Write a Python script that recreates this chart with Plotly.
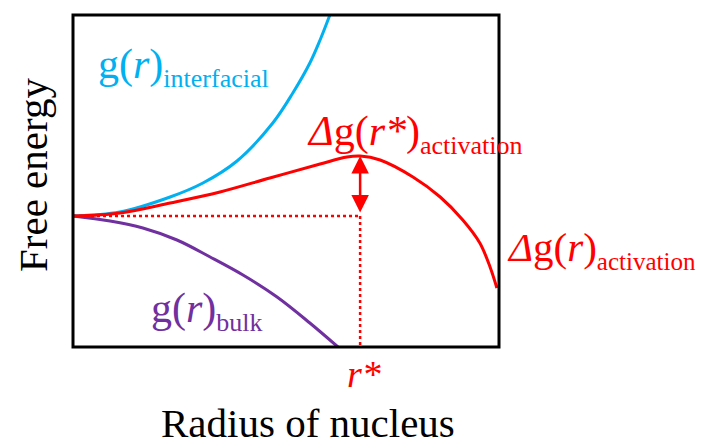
import plotly.graph_objects as go

# --- data (r in arbitrary units 0..10, g in arbitrary free-energy units) ---
r_interfacial = [0, 1.10, 2.28, 3.05, 3.85, 4.69, 5.16, 5.56, 5.80, 6.03]
g_interfacial = [0, 0.4, 1.9, 3.3, 5.5, 9.3, 12.3, 15.3, 17.6, 20.1]

r_activation = [0, 1.10, 2.28, 3.45, 4.62, 5.80, 6.43, 6.74, 7.21, 7.98, 8.62, 9.15, 9.55, 9.79, 9.95]
g_activation = [0, 0.3, 1.3, 2.4, 3.8, 5.2, 5.9, 6.0, 5.6, 3.9, 1.9, -0.4, -2.7, -5.1, -7.2]

r_bulk = [0, 0.87, 1.64, 2.44, 3.22, 3.99, 4.79, 5.56, 6.22]
g_bulk = [0, -0.5, -1.2, -2.4, -4.1, -5.9, -8.1, -10.7, -13.1]

r_star = 6.74
g_star = 6.0
g_base = 0.0

x_range = [0, 10]
y_range = [-13.1, 20.1]

CYAN = "#00B0F0"
RED = "#FF0000"
PURPLE = "#7030A0"
FONT = "Liberation Serif"

# page has an 8px body margin: figure is sized/offset to compensate
OFF = 8
W, H = 707 - OFF, 443 - OFF
PL, PR, PT, PB = 73, 499, 15, 347   # plot area in page pixels

fig = go.Figure()

line_style = dict(width=3, shape="spline", smoothing=1.0)
fig.add_trace(go.Scatter(x=r_interfacial, y=g_interfacial, mode="lines",
                         line=dict(color=CYAN, **line_style)))
fig.add_trace(go.Scatter(x=r_bulk, y=g_bulk, mode="lines",
                         line=dict(color=PURPLE, **line_style)))
fig.add_trace(go.Scatter(x=r_activation, y=g_activation, mode="lines",
                         line=dict(color=RED, **line_style)))
# dotted guides
fig.add_trace(go.Scatter(x=[0, r_star], y=[g_base, g_base], mode="lines",
                         line=dict(color=RED, width=2.5, dash="dot")))
fig.add_trace(go.Scatter(x=[r_star, r_star], y=[g_base, y_range[0]], mode="lines",
                         line=dict(color=RED, width=2.5, dash="dot")))

# double arrow
fig.add_annotation(x=r_star, y=g_star, ax=r_star, ay=g_base + 0.2, xref="x", yref="y",
                   axref="x", ayref="y", text="", showarrow=True, arrowhead=2,
                   startarrowhead=2, arrowside="end+start", arrowsize=1.4,
                   startarrowsize=1.4, arrowwidth=2.5, arrowcolor=RED)


def px2paper(px, py):
    return (px - PL) / (PR - PL), (PB - py) / (PB - PT)


def lab(text, px, py, color, xanchor="left", yanchor="middle", size=42, angle=0):
    x, y = px2paper(px, py)
    fig.add_annotation(x=x, y=y, xref="paper", yref="paper", text=text, showarrow=False,
                       xanchor=xanchor, yanchor=yanchor, textangle=angle,
                       font=dict(family=FONT, size=size, color=color))


def sub(t, s=26):
    return "<sub><span style='font-size:%dpx'>" % s + t + "</span></sub>"


lab("g(<i>r</i>)" + sub("interfacial"), 96, 67, CYAN)
lab("<i>Δ</i>g(<i>r*</i>)" + sub("activation"), 305, 134, RED)
lab("<i>Δ</i>g(<i>r</i>)" + sub("activation", 25), 505, 250, RED, size=41)
lab("g(<i>r</i>)" + sub("bulk"), 149, 311, PURPLE)
lab("<i>r*</i>", 364, 374, RED, xanchor="center", size=38)
lab("Radius of nucleus", 308, 423, "black", xanchor="center", size=41)
lab("Free energy", 33, 175, "black", xanchor="center", size=41, angle=-90)

fig.update_layout(
    width=W, height=H,
    margin=dict(l=PL - OFF, r=W - (PR - OFF), t=PT - OFF, b=H - (PB - OFF)),
    paper_bgcolor="white", plot_bgcolor="white",
    showlegend=False,
    xaxis=dict(range=x_range, showgrid=False, zeroline=False, showticklabels=False,
               ticks="", fixedrange=True),
    yaxis=dict(range=y_range, showgrid=False, zeroline=False, showticklabels=False,
               ticks="", fixedrange=True),
)

fig.add_shape(type="rect", xref="paper", yref="paper", x0=0, y0=0, x1=1, y1=1,
              line=dict(color="black", width=3), layer="above")

fig.write_html("out.html")
